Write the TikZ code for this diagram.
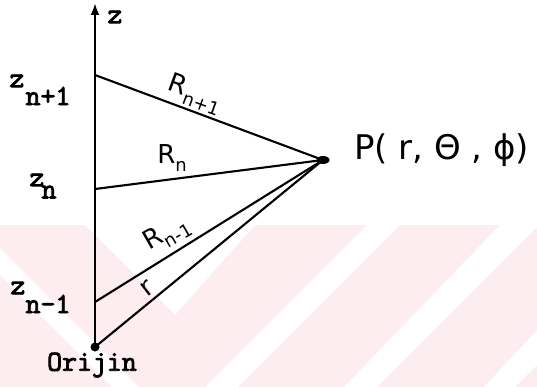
\documentclass[tikz,border=0pt]{standalone}
\usepackage{fontspec}
\setmainfont{DejaVu Sans}
\setmonofont{Latin Modern Mono}[AutoFakeBold=3]
\usetikzlibrary{arrows.meta,shapes.geometric}
\definecolor{wm}{RGB}{253,237,240}
\newcommand\Rlab[1]{R\raisebox{-0.3em}{\fontsize{18}{18}\selectfont #1}}
\begin{document}
\begin{tikzpicture}[x=1pt,y=-1pt,
  ln/.style={line width=2.1pt},
  axisln/.style={line width=2.8pt},
  dotnode/.style={circle,fill=black,inner sep=0pt,minimum size=9pt},
  mono/.style={font=\fontsize{29}{29}\selectfont\ttfamily\bfseries,inner sep=0pt},
  hand/.style={font=\fontsize{26}{26}\selectfont,inner sep=0pt},
  wmband/.style={fill=white}
  ]
\useasboundingbox (0,0) rectangle (537,387);
% faint watermark
\fill[wm] (0,225) rectangle (537,387);
\fill[wmband] (85,225) -- (255,225) -- (175,315) -- cycle;
\fill[wmband] (367,225) -- (400,225) -- (238,387) -- (205,387) -- cycle;
\fill[wmband] (500,225) -- (539,225) -- (377,387) -- (344,387) -- cycle;
\fill[wmband] (537,330) -- (537,365) -- (515,387) -- (484,387) -- cycle;
\fill[wmband] (0,248) -- (0,275) -- (112,387) -- (139,387) -- cycle;

% points
\coordinate (top) at (95,3);
\coordinate (j1) at (95,75);
\coordinate (j2) at (95,189);
\coordinate (j3) at (95,302);
\node[dotnode] (O) at (95,347) {};
\node[ellipse,fill=black,inner sep=0pt,minimum width=13pt,minimum height=8pt] (P) at (323,160) {};

% axis
\draw[axisln,-{Latex[length=12pt,width=9pt]}] (O.center) -- (top);

% lines to P
\draw[ln] (j1) -- (P.center);
\draw[ln] (j2) -- (P.center);
\draw[ln] (j3) -- (P.center);
\draw[ln] (O.center) -- (P.center);

% axis labels
\node[mono] (zax) at (115,17) {z};
\node[mono] (z1) at (17,81) {z};
\node[mono] (s1) at (48,96) {n+1};
\node[mono] (z2) at (37,180) {z};
\node[mono] (s2) at (49,192) {n};
\node[mono] (z3) at (18,288) {z};
\node[mono] (s3) at (48,304) {n-1};
\node[mono] (orig) at (92,365) {Orijin};

% distance labels
\node[hand,rotate=-20] (Rn1) at (195,94) {\Rlab{n+1}};
\node[hand] (Rn) at (172,158) {\Rlab{n}};
\node[hand,rotate=30] (Rnm) at (167,234) {\Rlab{n-1}};
\node[hand,rotate=38] (rr) at (147,288) {r};

% point label
\node[font=\fontsize{34}{34}\selectfont,inner sep=0pt,anchor=west] (Plab) at (354,150) {P( r, Θ , ϕ)};
\end{tikzpicture}
\end{document}
